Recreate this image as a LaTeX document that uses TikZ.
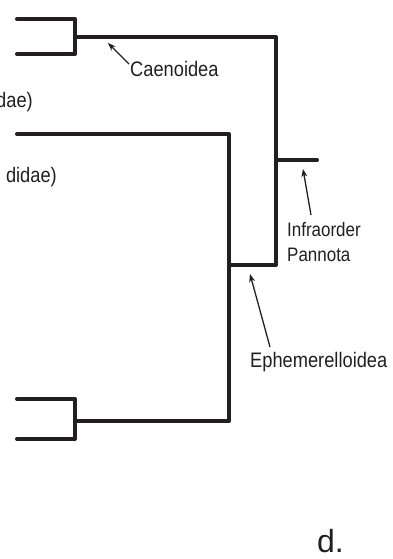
\documentclass[tikz,border=0pt]{standalone}
\usepackage{fontspec}
\setmainfont{Liberation Sans}
\newfontfamily\narrowsans[FakeStretch=0.87]{Liberation Sans}
\usetikzlibrary{arrows.meta}
\definecolor{ink}{HTML}{231F20}
\begin{document}
\begin{tikzpicture}[x=1pt,y=-1pt,
  branch/.style={draw=ink,line width=4pt,line cap=round,line join=round},
  pointer/.style={draw=ink,line width=1.3pt,-{Stealth[length=8pt,width=6pt]}},
  lbl/.style={inner sep=0pt,text=ink,font=\narrowsans\fontsize{21}{25}\selectfont},
  slbl/.style={inner sep=0pt,text=ink,font=\narrowsans\fontsize{19.5}{25}\selectfont},
  ]
\useasboundingbox (0,0) rectangle (393,559);
% tree coordinates
\coordinate (a1) at (17,19);
\coordinate (a2) at (75,19);
\coordinate (a3) at (75,54);
\coordinate (a4) at (17,54);
\coordinate (aj) at (75,37);
\coordinate (pc) at (276,37);
\coordinate (pb) at (276,265);
\coordinate (ps) at (276,160);
\coordinate (pe) at (317,160);
\coordinate (eb) at (229,265);
\coordinate (m1) at (17,134);
\coordinate (m2) at (229,134);
\coordinate (m3) at (229,421);
\coordinate (bj) at (75,421);
\coordinate (b1) at (17,399);
\coordinate (b2) at (75,399);
\coordinate (b3) at (75,439);
\coordinate (b4) at (17,439);
% branches
\draw[branch] (a1) -- (a2) -- (a3) -- (a4);
\draw[branch] (aj) -- (pc) -- (pb) -- (eb);
\draw[branch] (ps) -- (pe);
\draw[branch] (m1) -- (m2) -- (m3) -- (bj);
\draw[branch] (b1) -- (b2) -- (b3) -- (b4);
% labels
\node[lbl,anchor=base east] (t1) at (33,107) {dae)};
\node[lbl,anchor=base east] (t2) at (57,182) {didae)};
\node[lbl,anchor=base west] (cae) at (130,77) {Caenoidea};
\node[slbl,anchor=base west] (inf) at (287,236) {Infraorder};
\node[slbl,anchor=base west] (pan) at (287,261) {Pannota};
\node[lbl,anchor=base west] (eph) at (250,367) {Ephemerelloidea};
\node[inner sep=0pt,text=ink,font=\fontsize{32}{36}\selectfont,anchor=base west] (d) at (317,552) {d.};
% pointers
\coordinate (caeS) at (129,64);
\coordinate (caeT) at (108,43);
\coordinate (panS) at (311,215);
\coordinate (panT) at (303,169);
\coordinate (ephS) at (270,347);
\coordinate (ephT) at (250,274);
\draw[pointer] (caeS) -- (caeT);
\draw[pointer] (panS) -- (panT);
\draw[pointer] (ephS) -- (ephT);
\end{tikzpicture}
\end{document}
